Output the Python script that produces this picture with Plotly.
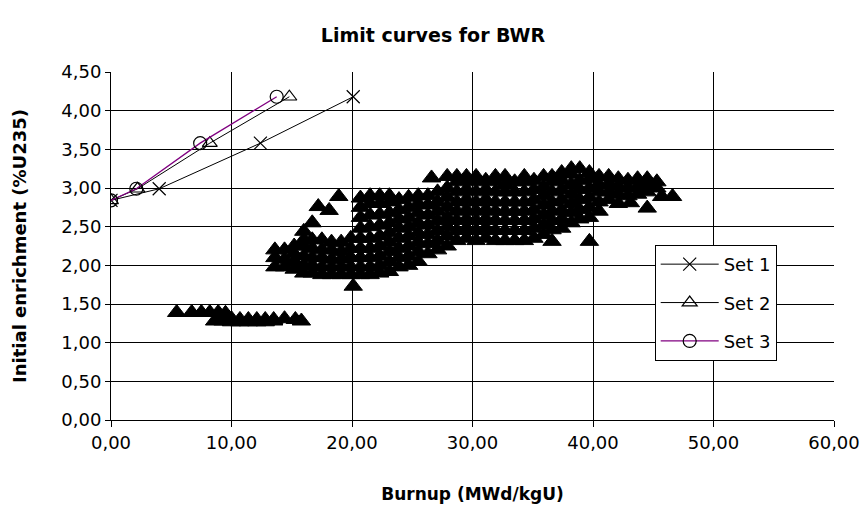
import plotly.graph_objects as go

# Limit curves (burnup MWd/kgU, initial enrichment %U235)
set1_burnup = [0.0, 4.0, 12.4, 20.1]
set1_enrich = [2.84, 2.99, 3.58, 4.18]
set2_burnup = [0.0, 2.2, 8.2, 14.8]
set2_enrich = [2.84, 2.99, 3.58, 4.18]
set3_burnup = [0.0, 2.1, 7.4, 13.75]
set3_enrich = [2.84, 2.99, 3.58, 4.18]

# Fuel assembly data points
cloud_columns = [
    (5.45, [1.39]), (6.7, [1.39]), (7.5, [1.39]), (8.2, [1.39]), (8.9, [1.39]), (9.5, [1.38]),
    (8.6, [1.28]), (9.3, [1.28, 1.31]), (10.0, [1.27, 1.31]), (10.7, [1.27, 1.30]),
    (11.4, [1.27, 1.30]), (12.1, [1.27, 1.30]), (12.8, [1.27, 1.30]), (13.5, [1.28, 1.30]),
    (14.4, [1.31]), (15.3, [1.30]), (15.8, [1.28]),
    (13.6, [1.98, 2.10, 2.20]),
    (14.4, [1.98, 2.08, 2.20]),
    (15.2, [1.95, 2.05, 2.15, 2.25]),
    (16.0, [1.90, 2.00, 2.12, 2.25, 2.33, 2.44]),
    (16.7, [1.90, 2.00, 2.10, 2.22, 2.33, 2.55]),
    (17.2, [2.76]),
    (17.5, [1.88, 1.98, 2.10, 2.20, 2.33]),
    (18.1, [2.71]),
    (18.3, [1.88, 1.98, 2.08, 2.20, 2.30]),
    (18.9, [2.89]),
    (19.1, [1.88, 1.98, 2.08, 2.18, 2.30]),
    (19.9, [1.88, 1.98, 2.10, 2.22, 2.35]),
    (20.1, [1.73]),
    (20.7, [1.88, 1.98, 2.10, 2.22, 2.35, 2.48, 2.62, 2.75, 2.87]),
    (21.5, [1.88, 1.98, 2.10, 2.22, 2.35, 2.50, 2.65, 2.80, 2.90]),
    (22.3, [1.90, 2.00, 2.12, 2.25, 2.38, 2.52, 2.66, 2.80, 2.90]),
    (23.1, [1.92, 2.05, 2.18, 2.30, 2.42, 2.55, 2.68, 2.82, 2.90]),
    (23.9, [1.98, 2.10, 2.22, 2.35, 2.48, 2.60, 2.72, 2.85]),
    (24.7, [2.00, 2.12, 2.25, 2.38, 2.50, 2.62, 2.75, 2.88]),
    (25.5, [2.05, 2.18, 2.30, 2.42, 2.55, 2.68, 2.80, 2.90]),
    (26.3, [2.15, 2.28, 2.40, 2.52, 2.65, 2.78, 2.90]),
    (26.6, [3.13]),
    (27.1, [2.20, 2.32, 2.45, 2.58, 2.70, 2.82, 2.95]),
    (27.9, [2.25, 2.38, 2.50, 2.62, 2.75, 2.88, 3.00, 3.15]),
    (28.7, [2.32, 2.45, 2.58, 2.70, 2.82, 2.95, 3.08, 3.15]),
    (29.5, [2.35, 2.48, 2.60, 2.72, 2.85, 2.98, 3.10, 3.15]),
    (30.3, [2.32, 2.45, 2.58, 2.70, 2.82, 2.95, 3.08, 3.15]),
    (31.1, [2.35, 2.48, 2.60, 2.72, 2.85, 2.98, 3.10]),
    (31.9, [2.32, 2.45, 2.58, 2.70, 2.82, 2.95, 3.08, 3.15]),
    (32.7, [2.32, 2.45, 2.58, 2.70, 2.82, 2.95, 3.05, 3.15]),
    (33.5, [2.32, 2.45, 2.58, 2.70, 2.82, 2.95, 3.08]),
    (34.3, [2.32, 2.45, 2.58, 2.70, 2.82, 2.95, 3.08, 3.15]),
    (35.1, [2.35, 2.48, 2.60, 2.72, 2.85, 2.98, 3.10]),
    (35.9, [2.40, 2.52, 2.65, 2.78, 2.90, 3.02, 3.15]),
    (36.6, [2.31, 2.46, 2.58, 2.70, 2.82, 2.95, 3.08, 3.15]),
    (37.4, [2.48, 2.60, 2.72, 2.85, 2.98, 3.10, 3.20]),
    (38.2, [2.55, 2.68, 2.80, 2.92, 3.05, 3.18, 3.25]),
    (38.9, [2.60, 2.72, 2.85, 2.98, 3.10, 3.25]),
    (39.7, [2.31, 2.62, 2.75, 2.88, 3.00, 3.12, 3.20]),
    (40.5, [2.70, 2.82, 2.95, 3.05, 3.15]),
    (41.3, [2.85, 2.95, 3.05, 3.15]),
    (42.1, [2.80, 2.92, 3.02, 3.12]),
    (42.9, [2.90, 3.00, 3.10]),
    (43.1, [2.81]),
    (43.7, [2.92, 3.02, 3.12]),
    (44.5, [2.74, 2.95, 3.05, 3.12]),
    (45.3, [3.00, 3.08]),
    (45.7, [2.89]),
    (46.6, [2.89]),
]
cloud_burnup = [b for b, ys in cloud_columns for _ in ys]
cloud_enrich = [y for _, ys in cloud_columns for y in ys]

x_ticks = [0, 10, 20, 30, 40, 50, 60]
y_ticks = [0, 0.5, 1.0, 1.5, 2.0, 2.5, 3.0, 3.5, 4.0, 4.5]

FONT = "DejaVu Sans"

fig = go.Figure()
fig.add_trace(go.Scatter(
    x=cloud_burnup, y=cloud_enrich, mode="markers", showlegend=False,
    marker=dict(symbol="triangle-up", size=16, color="black", line=dict(color="black", width=1)),
))
fig.add_trace(go.Scatter(
    x=set1_burnup, y=set1_enrich, mode="lines+markers", name="Set 1", legendgroup="1",
    line=dict(color="black", width=1),
    marker=dict(symbol="x-thin-open", size=13, color="black", line=dict(color="black", width=1.2)),
))
fig.add_trace(go.Scatter(
    x=set2_burnup, y=set2_enrich, mode="lines+markers", name="Set 2", legendgroup="2",
    line=dict(color="black", width=1),
    marker=dict(symbol="triangle-up-open", size=13, color="black", line=dict(color="black", width=1.2)),
))
fig.add_trace(go.Scatter(
    x=set3_burnup, y=set3_enrich, mode="lines+markers", name="Set 3", legendgroup="3",
    line=dict(color="#800080", width=1.3),
    marker=dict(symbol="circle-open", size=13, color="black", line=dict(color="black", width=1.2)),
))

fig.update_layout(
    width=866, height=508,
    margin=dict(l=111, r=32, t=72, b=88, autoexpand=False),
    paper_bgcolor="white", plot_bgcolor="white",
    separators=", ",
    font=dict(family=FONT, size=18, color="black"),
    title=dict(text="<b>Limit curves for BWR</b>", x=0.5, xanchor="center", y=0.93, yanchor="middle",
               font=dict(family=FONT, size=19, color="black")),
    legend=dict(x=0.752, y=0.503, xanchor="left", yanchor="top",
                bordercolor="black", borderwidth=1, bgcolor="white",
                traceorder="grouped", tracegroupgap=12, itemwidth=58,
                font=dict(family=FONT, size=18, color="black")),
    xaxis=dict(range=[0, 60], tickvals=x_ticks, tickformat=".2f", automargin=False,
               showgrid=True, gridcolor="black", gridwidth=1,
               showline=True, linecolor="black", linewidth=1, zeroline=False,
               ticks="outside", ticklen=6, tickcolor="black",
               tickfont=dict(family=FONT, size=18),
               title=dict(text="<b>Burnup (MWd/kgU)</b>", standoff=36,
                          font=dict(family=FONT, size=17))),
    yaxis=dict(range=[0, 4.5], tickvals=y_ticks, tickformat=".2f", automargin=False,
               showgrid=True, gridcolor="black", gridwidth=1,
               showline=True, linecolor="black", linewidth=1, zeroline=False,
               ticks="outside", ticklen=5, tickcolor="black",
               tickfont=dict(family=FONT, size=18),
               title=dict(text="<b>Initial enrichment (%U235)</b>", standoff=30,
                          font=dict(family=FONT, size=18))),
)

fig.write_html("out.html", config={"displayModeBar": False},
               post_script="document.body.style.margin='0';")
